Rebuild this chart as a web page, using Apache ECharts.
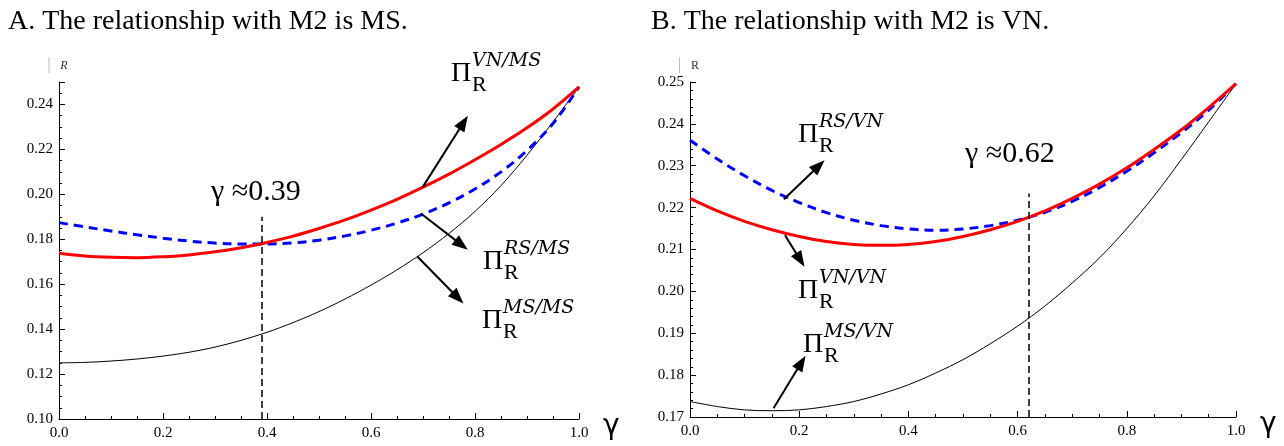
<!DOCTYPE html>
<html><head><meta charset="utf-8">
<script src="https://cdn.jsdelivr.net/npm/echarts@6/dist/echarts.min.js"></script>
<style>html,body{margin:0;padding:0;background:#fff}#c{width:1284px;height:446px}</style>
</head><body><div id="c"></div>
<script>
// gamma grid
const gamma = [0,0.05,0.1,0.15,0.2,0.25,0.3,0.35,0.4,0.45,0.5,0.55,0.6,0.65,0.7,0.75,0.8,0.85,0.9,0.95,1.0];
// Panel A: M2 is MS
const aVN = [0.1738,0.1726,0.1720,0.1718,0.1722,0.1730,0.1744,0.1762,0.1786,0.1814,0.1848,0.1886,0.1930,0.1978,0.2032,0.2090,0.2154,0.2222,0.2296,0.2380,0.2478];
const aRS = [0.1874,0.1855,0.1837,0.1820,0.1805,0.1792,0.1783,0.1779,0.1779,0.1784,0.1796,0.1815,0.1840,0.1872,0.1912,0.1962,0.2024,0.2100,0.2195,0.2315,0.2478];
const aMS = [0.1250,0.1252,0.1258,0.1267,0.1280,0.1297,0.1320,0.1350,0.1386,0.1429,0.1478,0.1534,0.1596,0.1664,0.1740,0.1826,0.1924,0.2039,0.2174,0.2322,0.2478];
// Panel B: M2 is VN
const bRS = [0.2361,0.2316,0.2276,0.2241,0.2212,0.2188,0.2170,0.2157,0.2149,0.2146,0.2149,0.2157,0.2170,0.2189,0.2215,0.2248,0.2287,0.2331,0.2379,0.2433,0.2496];
const bVN = [0.2222,0.2192,0.2167,0.2147,0.2131,0.2119,0.2112,0.2110,0.2112,0.2119,0.2131,0.2147,0.2167,0.2192,0.2222,0.2256,0.2295,0.2339,0.2386,0.2439,0.2496];
const bMS = [0.1737,0.1725,0.1717,0.1715,0.1717,0.1725,0.1737,0.1755,0.1777,0.1805,0.1837,0.1875,0.1917,0.1965,0.2020,0.2080,0.2150,0.2228,0.2315,0.2405,0.2496];
// thresholds
const gammaA = 0.39, gammaB = 0.62;
const titles = ['A. The relationship with M2 is MS.', 'B. The relationship with M2 is VN.'];

const pair = arr => gamma.map((g,i)=>[g, arr[i]]);
const SERIF = '"Liberation Serif", "Times New Roman", serif';

function xAx(idx){
  return {gridIndex: idx, type:'value', min:0, max:1, interval:0.2,
    name:'γ', nameLocation:'end', nameGap: 24,
    nameTextStyle:{fontFamily:'"DejaVu Sans", sans-serif', fontSize:28, color:'#000', verticalAlign:'top', padding:[-6,0,0,0]},
    axisLine:{show:true, onZero:false, lineStyle:{color:'#000', width:1}},
    axisTick:{show:true, inside:true, length:6, lineStyle:{color:'#000'}},
    minorTick:{show:true, splitNumber:4, length:3, lineStyle:{color:'#000'}},
    splitLine:{show:false},
    axisLabel:{fontFamily:SERIF, fontSize:15, color:'#000', margin:7, formatter:v=>v.toFixed(1)}};
}
function yAx(idx, min, max, interval, minorSplit, showMax, italic){
  return {gridIndex: idx, type:'value', min, max, interval,
    name:'{b|│}  {r|R}', nameLocation:'end', nameGap: 10,
    nameTextStyle:{align:'center', padding:[0,6,0,0], rich:{b:{color:'#bbb', fontSize:13, fontFamily:SERIF}, r:{color:'#333', fontSize:12, fontFamily:SERIF, fontStyle: italic?'italic':'normal'}}},
    axisLine:{show:true, lineStyle:{color:'#000', width:1}},
    axisTick:{show:true, inside:true, length:6, lineStyle:{color:'#000'}},
    minorTick:{show:true, splitNumber:minorSplit, length:3, lineStyle:{color:'#000'}},
    splitLine:{show:false},
    axisLabel:{fontFamily:SERIF, fontSize:15, color:'#000', margin:6, showMaxLabel: showMax, formatter:v=>v.toFixed(2)}};
}
const arrowLine = {silent:true, animation:false, symbol:['none','triangle'], symbolSize:[12,16], label:{show:false},
  lineStyle:{color:'#000', width:2, type:'solid'}, emphasis:{disabled:true}};
const dashLine = {silent:true, animation:false, symbol:['none','none'], label:{show:false},
  lineStyle:{color:'#000', width:1.5, type:[7,4]}, emphasis:{disabled:true}};

function line(name, idx, arr, color, width, type, extra){
  return Object.assign({name, type:'line', xAxisIndex:idx, yAxisIndex:idx, data:pair(arr), smooth:0.35,
    showSymbol:false, symbol:'none', animation:false, silent:true,
    lineStyle:{color, width, type}}, extra||{});
}

function piLabel(x, y, sup){
  return [
    {type:'text', x:x, y:y, style:{text:'Π', font:'28px '+SERIF, fill:'#000', textAlign:'left', textVerticalAlign:'middle'}},
    {type:'text', x:x+21, y:y-13, style:{text:sup, font:'italic 19px "DejaVu Serif", serif', fill:'#000', textAlign:'left', textVerticalAlign:'middle'}},
    {type:'text', x:x+21, y:y+11, style:{text:'R', font:'22px '+SERIF, fill:'#000', textAlign:'left', textVerticalAlign:'middle'}}
  ];
}

const chart = echarts.init(document.getElementById('c'), null, {renderer:'canvas'});
chart.setOption({
  backgroundColor:'#fff',
  animation:false,
  grid:[{left:59, top:82, width:520, height:337}, {left:690, top:82, width:546, height:335}],
  xAxis:[xAx(0), xAx(1)],
  yAxis:[yAx(0, 0.10, 0.25, 0.02, 4, false, true), yAx(1, 0.17, 0.25, 0.01, 5, true, false)],
  series:[
    line('MS/MS', 0, aMS, '#000', 1, 'solid', {markLine:Object.assign({}, arrowLine, {data:[
      [{coord:[0.699,0.2031]},{coord:[0.778,0.2320]}],
      [{coord:[0.696,0.1915]},{coord:[0.774,0.1775]}],
      [{coord:[0.689,0.1723]},{coord:[0.767,0.1540]}]
    ]})}),
    line('RS/MS', 0, aRS, '#0000ff', 3, [9,6], {markLine:Object.assign({}, dashLine, {data:[
      [{coord:[gammaA,0.10]},{coord:[gammaA,0.19]}]
    ]})}),
    line('VN/MS', 0, aVN, '#ff0000', 3, 'solid'),
    line('MS/VN', 1, bMS, '#000', 1, 'solid', {markLine:Object.assign({}, arrowLine, {data:[
      [{coord:[0.172,0.2220]},{coord:[0.236,0.2300]}],
      [{coord:[0.174,0.2134]},{coord:[0.202,0.2075]}],
      [{coord:[0.153,0.1721]},{coord:[0.204,0.1830]}]
    ]})}),
    line('RS/VN', 1, bRS, '#0000ff', 3, [9,6], {markLine:Object.assign({}, dashLine, {data:[
      [{coord:[gammaB,0.17]},{coord:[gammaB,0.2234]}]
    ]})}),
    line('VN/VN', 1, bVN, '#ff0000', 3, 'solid')
  ],
  graphic:[
    {type:'text', x:8, y:22, style:{text:titles[0], font:'28px '+SERIF, fill:'#000', textVerticalAlign:'middle'}},
    {type:'text', x:651, y:22, style:{text:titles[1], font:'28px '+SERIF, fill:'#000', textVerticalAlign:'middle'}},
    {type:'text', x:211, y:192, style:{text:'γ ≈'+gammaA.toFixed(2), font:'30px '+SERIF, fill:'#000', textVerticalAlign:'middle'}},
    {type:'text', x:965, y:154, style:{text:'γ ≈'+gammaB.toFixed(2), font:'30px '+SERIF, fill:'#000', textVerticalAlign:'middle'}},
    ...piLabel(451, 74, 'VN/MS'),
    ...piLabel(483, 262, 'RS/MS'),
    ...piLabel(482, 321, 'MS/MS'),
    ...piLabel(798, 135, 'RS/VN'),
    ...piLabel(798, 291, 'VN/VN'),
    ...piLabel(803, 345, 'MS/VN')
  ]
});
</script></body></html>
